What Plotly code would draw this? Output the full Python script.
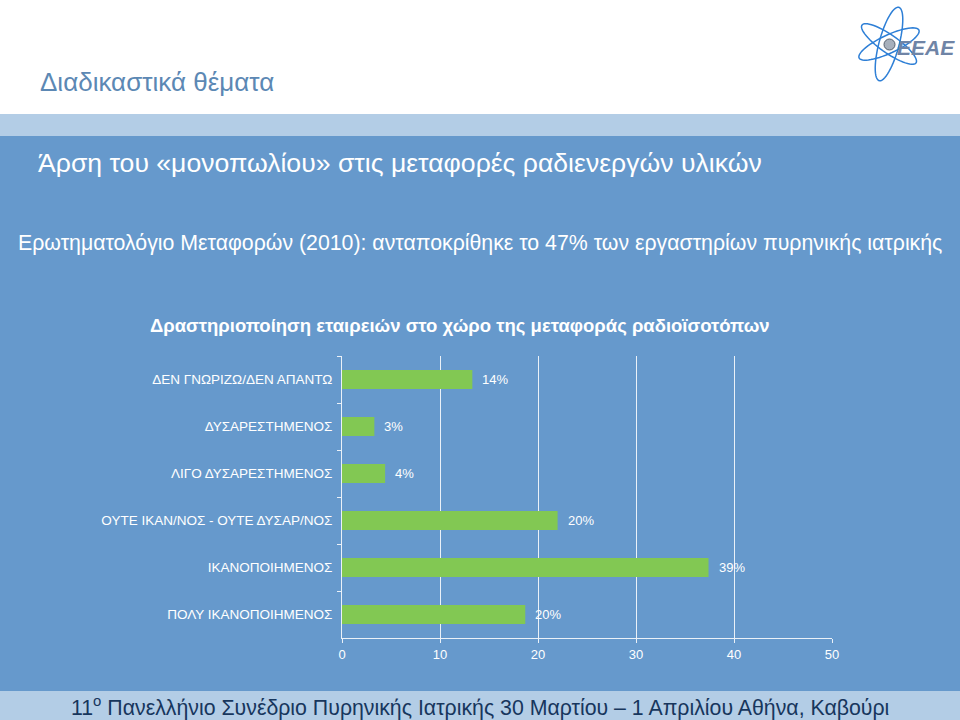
import numpy as np
import plotly.graph_objects as go

# ---- data ----
categories = ["ΔΕΝ ΓΝΩΡΙΖΩ/ΔΕΝ ΑΠΑΝΤΩ", "ΔΥΣΑΡΕΣΤΗΜΕΝΟΣ", "ΛΙΓΟ ΔΥΣΑΡΕΣΤΗΜΕΝΟΣ",
              "ΟΥΤΕ ΙΚΑΝ/ΝΟΣ - ΟΥΤΕ ΔΥΣΑΡ/ΝΟΣ", "ΙΚΑΝΟΠΟΙΗΜΕΝΟΣ", "ΠΟΛΥ ΙΚΑΝΟΠΟΙΗΜΕΝΟΣ"]
values = [13.3, 3.3, 4.4, 22.0, 37.4, 18.7]
value_labels = ["14%", "3%", "4%", "20%", "39%", "20%"]
x_ticks = [0, 10, 20, 30, 40, 50]

W, H = 960, 720
ML, MR, MT, MB = 342, 128, 356, 82
PW, PH = W - ML - MR, H - MT - MB

BLUE = "#6699CC"
LIGHT = "#B3CDE6"
GREEN = "#82C853"
AXIS = "#EAF1F8"
FONT = "Liberation Sans, Arial"


def px(x):
    return (x - ML) / PW


def py(y):
    return 1 - (y - MT) / PH


fig = go.Figure()
fig.add_trace(go.Bar(
    y=categories, x=values, orientation="h",
    marker=dict(color=GREEN, line=dict(width=0)),
    width=0.4, showlegend=False, hoverinfo="skip",
))

shapes = []
# backgrounds
shapes.append(dict(type="rect", xref="paper", yref="paper", x0=px(0), x1=px(W), y0=py(114), y1=py(136),
                   fillcolor=LIGHT, line=dict(width=0), layer="below"))
shapes.append(dict(type="rect", xref="paper", yref="paper", x0=px(0), x1=px(W), y0=py(136), y1=py(691),
                   fillcolor=BLUE, line=dict(width=0), layer="below"))
shapes.append(dict(type="rect", xref="paper", yref="paper", x0=px(0), x1=px(W), y0=py(691), y1=py(H),
                   fillcolor=LIGHT, line=dict(width=0), layer="below"))

# logo: atom orbits
cx, cy = 889, 44
t = np.linspace(0, 2 * np.pi, 60)
for ang, a, b in [(75, 38, 10), (25, 33, 9), (-35, 33, 9)]:
    r = np.deg2rad(ang)
    xs = cx + a * np.cos(t) * np.cos(r) - b * np.sin(t) * np.sin(r)
    ys = cy - (a * np.cos(t) * np.sin(r) + b * np.sin(t) * np.cos(r))
    path = "M " + " L ".join(f"{px(x):.5f},{py(y):.5f}" for x, y in zip(xs, ys)) + " Z"
    shapes.append(dict(type="path", xref="paper", yref="paper", path=path,
                       line=dict(color="#2E7FD6", width=1.5)))
shapes.append(dict(type="circle", xref="paper", yref="paper", x0=px(884), x1=px(895), y0=py(39), y1=py(50),
                   fillcolor="#A7B0BC", line=dict(color="#55606E", width=1)))

annotations = [
    dict(text="Διαδικαστικά θέματα", x=px(38), y=py(82), xanchor="left", yanchor="middle",
         font=dict(size=26, color="#5C88B4", family=FONT)),
    dict(text="Άρση του «μονοπωλίου» στις μεταφορές ραδιενεργών υλικών", x=px(36), y=py(163),
         xanchor="left", yanchor="middle", font=dict(size=26.6, color="white", family=FONT)),
    dict(text="Ερωτηματολόγιο Μεταφορών (2010): ανταποκρίθηκε το 47% των εργαστηρίων πυρηνικής ιατρικής",
         x=px(16), y=py(243), xanchor="left", yanchor="middle",
         font=dict(size=21.3, color="white", family=FONT)),
    dict(text="<b>Δραστηριοποίηση εταιρειών στο χώρο της μεταφοράς ραδιοϊσοτόπων</b>", x=px(460), y=py(325),
         xanchor="center", yanchor="middle", font=dict(size=18.5, color="white", family=FONT)),
    dict(text="11<sup>ο</sup> Πανελλήνιο Συνέδριο Πυρηνικής Ιατρικής 30 Μαρτίου – 1 Απριλίου Αθήνα, Καβούρι",
         x=px(480), y=py(706), xanchor="center", yanchor="middle",
         font=dict(size=21.3, color="#17365D", family=FONT)),
    dict(text="<b><i>ΕΕΑΕ</i></b>", x=px(957), y=py(47), xanchor="right", yanchor="middle",
         font=dict(size=21, color="#6F84A6", family=FONT)),
]
for a in annotations:
    a.update(xref="paper", yref="paper", showarrow=False)

# value labels next to bars
for c, v, lab in zip(categories, values, value_labels):
    annotations.append(dict(x=v, y=c, xref="x", yref="y", text=lab, showarrow=False,
                            xanchor="left", yanchor="middle", xshift=8,
                            font=dict(size=13, color="white", family=FONT)))

fig.update_layout(
    width=W, height=H,
    margin=dict(l=ML, r=MR, t=MT, b=MB, pad=0),
    paper_bgcolor="white", plot_bgcolor=BLUE,
    shapes=shapes, annotations=annotations,
    font=dict(family=FONT, color="white", size=13),
    bargap=0.6,
)
fig.update_xaxes(range=[0, 50], tickvals=x_ticks, showgrid=True, gridcolor=AXIS, gridwidth=1,
                 showline=True, linecolor=AXIS, linewidth=1, ticks="outside", ticklen=4, tickcolor=AXIS,
                 tickfont=dict(size=13, color="white"), zeroline=False, fixedrange=True)
fig.update_yaxes(categoryorder="array", categoryarray=categories, autorange="reversed",
                 showline=True, linecolor=AXIS, linewidth=1, ticks="outside", ticklen=4, tickcolor=AXIS,
                 tickson="boundaries", showgrid=False, ticklabelstandoff=6,
                 tickfont=dict(size=13.5, color="white"), fixedrange=True)

fig.write_html("out.html")
